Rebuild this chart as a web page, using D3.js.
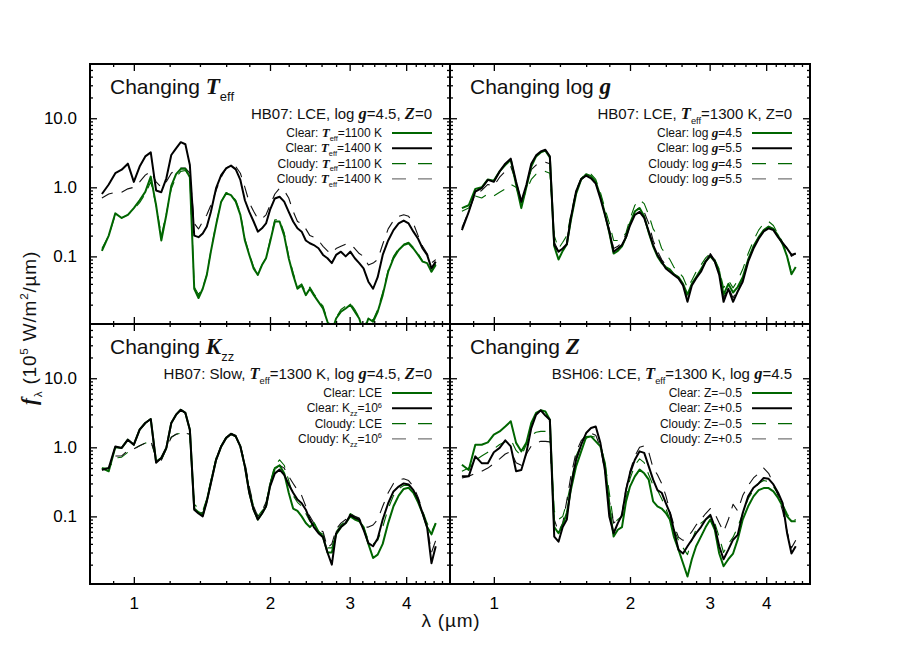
<!DOCTYPE html>
<html><head><meta charset="utf-8">
<script src="https://cdn.jsdelivr.net/npm/d3@7"></script>
<style>
body{margin:0;background:#fff;}
svg{font-family:"Liberation Sans",Arial,Helvetica,sans-serif;}
</style></head><body>
<svg id="chart" width="900" height="650"></svg>
<script>
// ---------------- DATA ----------------
const lam = [0.85,0.88,0.91,0.94,0.97,1.00,1.03,1.06,1.09,1.12,1.15,1.18,1.21,1.24,1.27,1.30,1.33,
  1.36,1.39,1.42,1.45,1.48,
  1.52,1.56,1.60,1.64,1.68,1.72,1.76,1.80,1.84,1.88,1.92,1.96,2.00,
  2.05,2.10,2.15,2.20,2.25,2.30,2.35,2.40,2.45,2.50,
  2.56,2.62,2.68,2.74,2.80,
  2.87,2.94,3.01,3.08,3.15,3.22,
  3.30,3.38,3.46,
  3.55,
  3.65,3.75,3.85,3.95,4.05,4.15,4.25,4.35,4.45,4.55,4.65];

// Panel 1: changing Teff
const teffClear1100 = [0.12,0.2,0.42,0.36,0.4,0.5,0.65,0.86,1.43,0.55,0.17,0.4,1.05,1.55,1.85,1.85,1.4,
  0.034,0.025,0.034,0.054,0.117,
  0.285,0.62,0.82,0.77,0.62,0.4,0.17,0.105,0.067,0.054,0.075,0.094,0.16,
  0.32,0.32,0.2,0.094,0.054,0.034,0.038,0.0275,0.034,0.0275,
  0.022,0.0176,0.0113,0.008,0.0126,
  0.0158,0.0176,0.02,0.0158,0.0126,0.008,
  0.0126,0.0113,0.0158,
  0.0275,
  0.06,0.094,0.124,0.146,0.155,0.13,0.105,0.084,0.08,0.06,0.075];
const teffClear1400 = [0.8,1.1,1.6,1.8,2.2,1.2,2.0,2.8,3.2,0.9,0.85,1.35,2.94,3.67,4.5,4.2,2.1,
  0.2,0.19,0.215,0.27,0.44,
  0.97,1.5,1.88,2.06,1.82,1.28,0.65,0.44,0.32,0.228,0.255,0.3,0.47,
  0.69,0.73,0.62,0.44,0.32,0.255,0.228,0.17,0.155,0.146,
  0.131,0.105,0.094,0.08,0.105,
  0.117,0.1,0.117,0.094,0.08,0.067,
  0.043,0.034,0.05,
  0.105,
  0.17,0.24,0.3,0.33,0.3,0.228,0.18,0.13,0.105,0.067,0.084];
const teffCloudy1100 = [0.13,0.2,0.4,0.36,0.4,0.48,0.6,0.8,1.2,0.55,0.2,0.42,0.95,1.4,1.7,1.75,1.4,
  0.036,0.028,0.035,0.055,0.12,
  0.3,0.62,0.84,0.8,0.65,0.42,0.18,0.11,0.07,0.057,0.075,0.095,0.17,
  0.34,0.34,0.22,0.1,0.058,0.036,0.04,0.03,0.036,0.029,
  0.023,0.019,0.012,0.009,0.013,
  0.017,0.019,0.021,0.017,0.013,0.009,
  0.013,0.012,0.017,
  0.03,
  0.063,0.1,0.13,0.15,0.16,0.135,0.11,0.085,0.08,0.06,0.078];
const teffCloudy1400 = [0.7,0.8,0.85,0.85,0.95,1.0,1.2,1.5,1.7,1.2,1.0,1.2,1.6,1.8,1.9,1.9,1.6,
  0.3,0.25,0.32,0.4,0.55,
  0.9,1.4,1.9,2.1,2.0,1.6,1.0,0.6,0.45,0.35,0.35,0.4,0.55,
  0.8,0.97,0.9,0.7,0.45,0.32,0.3,0.25,0.2,0.19,
  0.17,0.14,0.12,0.11,0.13,
  0.14,0.15,0.15,0.13,0.11,0.1,
  0.075,0.08,0.09,
  0.15,
  0.25,0.33,0.38,0.4,0.38,0.3,0.2,0.14,0.11,0.08,0.09];

// Panel 2: changing log g
const loggClear45 = [0.5,0.55,0.95,1.0,1.3,1.25,1.7,2.1,2.5,1.1,0.5,1.0,2.0,2.8,3.2,3.4,2.7,
  0.14,0.09,0.12,0.15,0.33,
  0.8,1.3,1.55,1.45,1.2,0.75,0.42,0.22,0.11,0.12,0.14,0.19,0.3,
  0.45,0.5,0.38,0.22,0.14,0.1,0.08,0.07,0.065,0.055,
  0.05,0.04,0.028,0.04,0.05,
  0.065,0.085,0.1,0.085,0.06,0.028,
  0.04,0.03,0.036,
  0.05,
  0.09,0.14,0.19,0.24,0.27,0.25,0.2,0.15,0.1,0.055,0.07];
const loggClear55 = [0.24,0.44,0.87,0.97,1.28,1.2,1.7,2.2,2.6,1.2,0.62,1.08,2.2,2.9,3.3,3.5,2.8,
  0.146,0.117,0.13,0.15,0.36,
  0.87,1.32,1.48,1.35,1.13,0.69,0.4,0.23,0.117,0.13,0.146,0.19,0.28,
  0.4,0.44,0.36,0.23,0.146,0.105,0.084,0.067,0.06,0.054,
  0.048,0.038,0.022,0.038,0.048,
  0.06,0.084,0.105,0.084,0.054,0.022,
  0.034,0.022,0.031,
  0.043,
  0.084,0.13,0.18,0.23,0.255,0.24,0.19,0.155,0.13,0.105,0.11];
const loggCloudy45 = [0.45,0.5,0.75,0.7,0.8,0.75,0.85,0.95,1.1,1.0,0.6,0.9,1.3,1.55,1.65,1.7,1.6,
  0.2,0.13,0.16,0.2,0.4,
  0.9,1.35,1.6,1.55,1.3,0.85,0.5,0.3,0.17,0.17,0.18,0.22,0.35,
  0.55,0.66,0.58,0.4,0.25,0.2,0.13,0.11,0.09,0.07,
  0.06,0.05,0.035,0.045,0.06,
  0.075,0.095,0.11,0.09,0.065,0.035,
  0.045,0.035,0.045,
  0.065,
  0.11,0.17,0.24,0.3,0.32,0.28,0.21,0.16,0.1,0.06,0.07];
const loggCloudy55 = [0.26,0.45,0.8,0.9,1.1,1.05,1.4,1.7,2.0,1.2,0.65,1.0,1.8,2.1,2.2,2.3,2.2,
  0.16,0.12,0.13,0.16,0.37,
  0.87,1.3,1.48,1.38,1.15,0.72,0.42,0.25,0.13,0.14,0.16,0.21,0.3,
  0.44,0.52,0.44,0.3,0.17,0.12,0.09,0.075,0.065,0.056,
  0.05,0.04,0.025,0.04,0.05,
  0.063,0.088,0.11,0.088,0.058,0.025,
  0.036,0.025,0.034,
  0.048,
  0.09,0.14,0.19,0.24,0.27,0.25,0.2,0.16,0.13,0.1,0.11];

// Panel 3: changing Kzz
const kzzClearLCE = [0.5,0.45,1.0,0.98,1.29,1.09,1.8,2.25,2.57,0.62,0.7,0.98,2.25,2.97,3.5,3.15,1.8,
  0.13,0.115,0.105,0.17,0.31,
  0.66,1.03,1.37,1.56,1.44,1.03,0.53,0.22,0.125,0.09,0.11,0.14,0.28,
  0.5,0.55,0.42,0.22,0.13,0.12,0.1,0.08,0.07,0.08,
  0.06,0.05,0.03,0.03,0.055,
  0.07,0.08,0.1,0.09,0.085,0.07,
  0.04,0.025,0.028,
  0.04,
  0.08,0.14,0.2,0.25,0.26,0.22,0.16,0.11,0.07,0.055,0.08];
const kzzClearK6 = [0.475,0.5,1.03,0.98,1.29,1.09,1.8,2.25,2.57,0.6,0.7,0.98,2.25,2.97,3.5,3.15,1.8,
  0.125,0.11,0.1,0.165,0.3,
  0.66,1.03,1.37,1.56,1.44,1.03,0.53,0.22,0.125,0.09,0.11,0.14,0.27,
  0.42,0.475,0.4,0.29,0.22,0.175,0.155,0.125,0.09,0.07,
  0.057,0.05,0.03,0.02,0.057,
  0.07,0.08,0.105,0.095,0.09,0.064,
  0.041,0.037,0.048,
  0.09,
  0.155,0.23,0.27,0.3,0.29,0.24,0.175,0.11,0.07,0.021,0.037];
const kzzCloudyLCE = [0.5,0.5,0.7,0.72,0.85,0.95,1.05,1.15,1.25,0.7,0.65,0.95,1.4,1.55,1.6,1.62,1.55,
  0.15,0.13,0.12,0.18,0.33,
  0.7,1.05,1.4,1.58,1.45,1.0,0.55,0.25,0.14,0.1,0.12,0.15,0.3,
  0.55,0.66,0.55,0.33,0.2,0.16,0.14,0.11,0.085,0.075,
  0.06,0.055,0.035,0.035,0.06,
  0.075,0.085,0.11,0.1,0.09,0.07,
  0.045,0.04,0.045,
  0.07,
  0.13,0.2,0.25,0.28,0.28,0.24,0.17,0.12,0.08,0.06,0.08];
const kzzCloudyK6 = [0.47,0.5,0.75,0.75,0.9,0.95,1.05,1.15,1.25,0.7,0.65,0.95,1.4,1.55,1.6,1.6,1.55,
  0.14,0.12,0.11,0.17,0.32,
  0.68,1.05,1.38,1.6,1.5,1.05,0.6,0.27,0.14,0.1,0.12,0.16,0.3,
  0.48,0.55,0.5,0.38,0.3,0.24,0.2,0.14,0.1,0.08,
  0.065,0.06,0.035,0.04,0.065,
  0.08,0.09,0.11,0.1,0.095,0.07,
  0.07,0.075,0.09,
  0.14,
  0.22,0.3,0.34,0.35,0.33,0.27,0.19,0.12,0.07,0.03,0.045];

// Panel 4: changing Z
const zClearM05 = [0.56,0.47,1.09,1.09,1.18,1.53,1.7,2.0,2.38,1.16,0.875,1.16,2.25,3.15,3.43,3.3,2.5,
  0.07,0.057,0.076,0.112,0.24,
  0.53,0.875,1.41,1.44,1.22,1.03,0.59,0.14,0.051,0.064,0.07,0.165,0.27,
  0.38,0.475,0.42,0.34,0.165,0.14,0.13,0.112,0.09,0.051,
  0.033,0.021,0.0135,0.024,0.037,
  0.051,0.07,0.09,0.064,0.029,0.019,
  0.024,0.029,0.046,
  0.09,
  0.14,0.195,0.24,0.257,0.257,0.23,0.185,0.14,0.1,0.085,0.085];
const zClearP05 = [0.38,0.38,0.74,0.59,0.59,0.85,0.98,1.26,1.03,0.45,0.47,0.83,1.9,2.97,3.43,2.88,2.5,
  0.051,0.043,0.07,0.09,0.27,
  0.66,1.09,1.61,1.9,2.0,1.16,0.47,0.1,0.057,0.08,0.105,0.24,0.42,
  0.66,0.875,0.83,0.53,0.34,0.24,0.22,0.156,0.112,0.064,
  0.033,0.029,0.037,0.046,0.057,
  0.07,0.09,0.105,0.07,0.037,0.024,
  0.033,0.046,0.054,
  0.112,
  0.195,0.26,0.3,0.36,0.35,0.29,0.22,0.156,0.057,0.029,0.037];
const zCloudyM05 = [0.45,0.5,0.65,0.75,0.85,0.95,1.1,1.2,1.3,0.9,0.75,1.1,1.5,1.65,1.7,1.7,1.6,
  0.12,0.09,0.1,0.16,0.3,
  0.75,1.1,1.35,1.45,1.4,1.1,0.6,0.22,0.08,0.09,0.1,0.18,0.35,
  0.55,0.68,0.6,0.4,0.28,0.24,0.18,0.13,0.09,0.065,
  0.045,0.035,0.028,0.045,0.065,
  0.08,0.09,0.1,0.08,0.05,0.03,
  0.04,0.05,0.07,
  0.11,
  0.18,0.24,0.3,0.33,0.32,0.27,0.21,0.15,0.11,0.085,0.09];
const zCloudyP05 = [0.36,0.38,0.42,0.45,0.5,0.58,0.68,0.8,0.87,0.6,0.55,0.8,1.05,1.15,1.22,1.22,1.2,
  0.09,0.06,0.08,0.17,0.38,
  0.85,1.25,1.5,1.6,1.5,1.0,0.45,0.17,0.08,0.09,0.11,0.25,0.45,
  0.75,1.0,1.05,0.85,0.5,0.4,0.3,0.2,0.12,0.075,
  0.05,0.045,0.05,0.06,0.075,
  0.09,0.11,0.13,0.11,0.08,0.06,
  0.09,0.15,0.12,
  0.2,
  0.28,0.36,0.42,0.5,0.42,0.3,0.2,0.12,0.06,0.035,0.045];

// Axis ticks
const xTickValues = [1,2,3,4];
const xTickLabels = ["1","2","3","4"];
const xMinorValues = [0.9,1.2,1.4,1.6,1.8,2.2,2.4,2.6,2.8,3.2,3.4,3.6,3.8,4.2,4.4,4.6,4.8];
const yTickValues = [0.1,1,10];
const yTickLabels = ["0.1","1.0","10.0"];
const yMinorValues = [0.02,0.03,0.04,0.05,0.06,0.07,0.08,0.09,
  0.2,0.3,0.4,0.5,0.6,0.7,0.8,0.9,2,3,4,5,6,7,8,9,20,30,40,50];

// ---------------- DRAW ----------------
const W = 360, H = 260;
const GREEN = "#006600";
const SERIF = '"Liberation Serif","Times New Roman",Times,serif';
const svg = d3.select("#chart");
const x = d3.scaleLog().domain([0.8, 5.0]).range([0, W]);
const y = d3.scaleLog().domain([0.0105, 61]).range([H, 0]);

function rich(textSel, parts, size) {
  let shift = 0;
  parts.forEach(([t, k]) => {
    const ts = textSel.append("tspan").text(t);
    let target = 0;
    if (k === "sub") { target = size * 0.32; ts.attr("font-size", size * 0.62); }
    else if (k === "sup") { target = -size * 0.4; ts.attr("font-size", size * 0.62); }
    else if (k === "i") {
      ts.attr("font-family", SERIF).attr("font-style", "italic")
        .attr("font-weight", "bold").attr("font-size", size * 1.1);
    }
    if (target !== shift) { ts.attr("dy", target - shift); shift = target; }
  });
}

const panels = [
  { x0: 90, y0: 64, left: true, bottom: false,
    title: [["Changing "], ["T", "i"], ["eff", "sub"]],
    sub: [["HB07: LCE, log "], ["g", "i"], ["=4.5, "], ["Z", "i"], ["=0"]],
    series: [teffClear1100, teffClear1400, teffCloudy1100, teffCloudy1400],
    legend: [
      [["Clear: "], ["T", "i"], ["eff", "sub"], ["=1100 K"]],
      [["Clear: "], ["T", "i"], ["eff", "sub"], ["=1400 K"]],
      [["Cloudy: "], ["T", "i"], ["eff", "sub"], ["=1100 K"]],
      [["Cloudy: "], ["T", "i"], ["eff", "sub"], ["=1400 K"]]] },
  { x0: 450, y0: 64, left: false, bottom: false,
    title: [["Changing log "], ["g", "i"]],
    sub: [["HB07: LCE, "], ["T", "i"], ["eff", "sub"], ["=1300 K, Z=0"]],
    series: [loggClear45, loggClear55, loggCloudy45, loggCloudy55],
    legend: [
      [["Clear: log "], ["g", "i"], ["=4.5"]],
      [["Clear: log "], ["g", "i"], ["=5.5"]],
      [["Cloudy: log "], ["g", "i"], ["=4.5"]],
      [["Cloudy: log "], ["g", "i"], ["=5.5"]]] },
  { x0: 90, y0: 324, left: true, bottom: true,
    title: [["Changing "], ["K", "i"], ["zz", "sub"]],
    sub: [["HB07: Slow, "], ["T", "i"], ["eff", "sub"], ["=1300 K, log "], ["g", "i"], ["=4.5, "], ["Z", "i"], ["=0"]],
    series: [kzzClearLCE, kzzClearK6, kzzCloudyLCE, kzzCloudyK6],
    legend: [
      [["Clear: LCE"]],
      [["Clear: K"], ["zz", "sub"], ["=10"], ["6", "sup"]],
      [["Cloudy: LCE"]],
      [["Cloudy: K"], ["zz", "sub"], ["=10"], ["6", "sup"]]] },
  { x0: 450, y0: 324, left: false, bottom: true,
    title: [["Changing "], ["Z", "i"]],
    sub: [["BSH06: LCE, "], ["T", "i"], ["eff", "sub"], ["=1300 K, log "], ["g", "i"], ["=4.5"]],
    series: [zClearM05, zClearP05, zCloudyM05, zCloudyP05],
    legend: [
      [["Clear: Z=\u22120.5"]],
      [["Clear: Z=+0.5"]],
      [["Cloudy: Z=\u22120.5"]],
      [["Cloudy: Z=+0.5"]]] }
];

// style per legend index: clear green, clear black, cloudy green, cloudy black
const styles = [
  { color: GREEN, width: 2, dash: null },
  { color: "#000", width: 2, dash: null },
  { color: GREEN, width: 1.1, dash: "12,9" },
  { color: "#111", width: 1.1, dash: "12,9" }
];
const drawOrder = [2, 3, 0, 1];

const line = d3.line().x(d => x(d[0])).y(d => y(d[1]));

panels.forEach((p, pi) => {
  const g = svg.append("g").attr("transform", `translate(${p.x0},${p.y0})`);
  g.append("clipPath").attr("id", "clip" + pi)
    .append("rect").attr("width", W).attr("height", H);

  // curves
  const cg = g.append("g").attr("clip-path", `url(#clip${pi})`);
  drawOrder.forEach(si => {
    const st = styles[si];
    const pts = lam.map((l, i) => [l, p.series[si][i]]);
    cg.append("path").attr("d", line(pts)).attr("fill", "none")
      .attr("stroke", st.color).attr("stroke-width", st.width)
      .attr("stroke-linejoin", "round")
      .attr("stroke-dasharray", st.dash);
  });

  // axes
  const styleAxis = sel => {
    sel.select(".domain").remove();
    sel.selectAll(".tick line").attr("stroke", "#000").attr("stroke-width", 1.3);
    sel.attr("font-family", '"Liberation Sans",Arial,Helvetica,sans-serif').attr("font-size", 17);
    sel.selectAll(".tick text").attr("fill", "#000");
  };
  const blank = () => "";
  g.append("g").attr("transform", `translate(0,${H})`)
    .call(d3.axisBottom(x).tickValues(xTickValues).tickSize(-7).tickPadding(13)
      .tickFormat(p.bottom ? ((d, i) => xTickLabels[i]) : blank)).call(styleAxis);
  g.append("g").attr("transform", `translate(0,${H})`)
    .call(d3.axisBottom(x).tickValues(xMinorValues).tickSize(-3).tickFormat(blank)).call(styleAxis);
  g.append("g")
    .call(d3.axisTop(x).tickValues(xTickValues).tickSize(-7).tickFormat(blank)).call(styleAxis);
  g.append("g")
    .call(d3.axisTop(x).tickValues(xMinorValues).tickSize(-3).tickFormat(blank)).call(styleAxis);
  g.append("g")
    .call(d3.axisLeft(y).tickValues(yTickValues).tickSize(-7).tickPadding(13)
      .tickFormat(p.left ? ((d, i) => yTickLabels[i]) : blank)).call(styleAxis);
  g.append("g")
    .call(d3.axisLeft(y).tickValues(yMinorValues).tickSize(-3).tickFormat(blank)).call(styleAxis);
  g.append("g").attr("transform", `translate(${W},0)`)
    .call(d3.axisRight(y).tickValues(yTickValues).tickSize(-7).tickFormat(blank)).call(styleAxis);
  g.append("g").attr("transform", `translate(${W},0)`)
    .call(d3.axisRight(y).tickValues(yMinorValues).tickSize(-3).tickFormat(blank)).call(styleAxis);

  g.append("rect").attr("width", W).attr("height", H)
    .attr("fill", "none").attr("stroke", "#000").attr("stroke-width", 2);

  // title
  const t = g.append("text").attr("x", 20).attr("y", 30).attr("font-size", 21).attr("fill", "#111");
  rich(t, p.title, 21);
  // subtitle
  const s = g.append("text").attr("x", W - 18).attr("y", 55).attr("font-size", 15)
    .attr("text-anchor", "end").attr("fill", "#111");
  rich(s, p.sub, 15);
  // legend
  p.legend.forEach((lab, i) => {
    const cy = 69 + i * 15.3;
    const lt = g.append("text").attr("x", W - 68).attr("y", cy + 4).attr("font-size", 12)
      .attr("text-anchor", "end").attr("fill", "#111");
    rich(lt, lab, 12);
    const st = styles[i];
    g.append("line").attr("x1", W - 58).attr("x2", W - 18).attr("y1", cy).attr("y2", cy)
      .attr("stroke", i === 3 ? "#777" : st.color).attr("stroke-width", i >= 2 ? 1.4 : st.width)
      .attr("stroke-dasharray", i >= 2 ? "14,12" : null);
  });
});

// axis titles
const yl = svg.append("text").attr("transform", "translate(36,328) rotate(-90)")
  .attr("text-anchor", "middle").attr("font-size", 19).attr("letter-spacing", 0.8).attr("fill", "#111");
rich(yl, [["f", "i"], ["\u03bb", "sub"], [" (10"], ["5", "sup"], [" W/m"], ["2", "sup"], ["/\u00b5m)"]], 19);

svg.append("text").attr("x", 451).attr("y", 627).attr("text-anchor", "middle")
  .attr("font-size", 19).attr("letter-spacing", 0.8).attr("fill", "#111").text("\u03bb (\u00b5m)");
</script>
</body></html>
